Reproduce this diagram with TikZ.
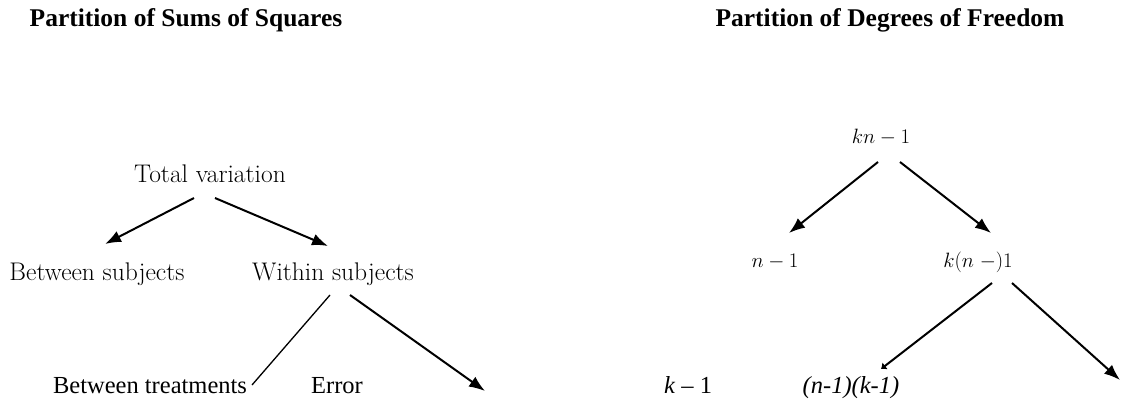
\documentclass[tikz,border=0pt]{standalone}
\usepackage{fontspec}
\newfontfamily\tnr{Liberation Serif}
\usetikzlibrary{arrows.meta}
\begin{document}
\begin{tikzpicture}[x=1pt,y=-1pt,
  lbl/.style={inner sep=0pt,anchor=base,font=\fontsize{25.5}{30}\selectfont},
  mlbl/.style={inner sep=0pt,anchor=base,font=\fontsize{19.5}{24}\selectfont},
  tlbl/.style={inner sep=0pt,anchor=base,font=\tnr\fontsize{24.5}{28}\selectfont},
  ttl/.style={inner sep=0pt,anchor=base,font=\tnr\bfseries\fontsize{25.5}{30}\selectfont},
  arr/.style={line width=2pt,-{Latex[length=16pt,width=12pt]}},
  ln/.style={line width=1.3pt}]
\useasboundingbox (0,0) rectangle (1121,412);
% titles
\node[ttl] (t1) at (186,27) {Partition of Sums of Squares};
\node[ttl] (t2) at (890,27) {Partition of Degrees of Freedom};
% left tree
\node[lbl] (tot) at (210,182) {Total variation};
\node[lbl] (bs) at (97,280) {Between subjects};
\node[lbl] (ws) at (333,280) {Within subjects};
\node[tlbl] (bt) at (150,393) {Between treatments};
\node[tlbl] (err) at (337,393) {Error};
\coordinate (a1s) at (194,198); \coordinate (a1e) at (105,244);
\coordinate (a2s) at (215,198); \coordinate (a2e) at (328,246);
\coordinate (a3s) at (330,295); \coordinate (a3e) at (252,385);
\coordinate (a4s) at (350,295); \coordinate (a4e) at (485,391);
\draw[arr] (a1s) -- (a1e);
\draw[arr] (a2s) -- (a2e);
\draw[ln] (a3s) -- (a3e);
\draw[arr] (a4s) -- (a4e);
% right tree
\node[mlbl] (kn) at (881,143) {$kn-1$};
\node[mlbl] (n1) at (775,267) {$n-1$};
\node[mlbl] (kn1) at (978,267) {$k(n\;{-})1$};
\node[tlbl] (k1) at (688,393) {\textit{k} – 1};
\node[tlbl] (nk) at (851,393) {\itshape (n-1)(k-1)};
\coordinate (b1s) at (878,162); \coordinate (b1e) at (789,233);
\coordinate (b2s) at (900,162); \coordinate (b2e) at (991,233);
\coordinate (b3s) at (992,283); \coordinate (b3e) at (881,369);
\coordinate (b4s) at (1012,283); \coordinate (b4e) at (1120,380);
\draw[arr] (b1s) -- (b1e);
\draw[arr] (b2s) -- (b2e);
\draw[line width=2pt,-{Latex[length=5pt,width=9pt]}] (b3s) -- (b3e);
\draw[arr] (b4s) -- (b4e);
\end{tikzpicture}
\end{document}
